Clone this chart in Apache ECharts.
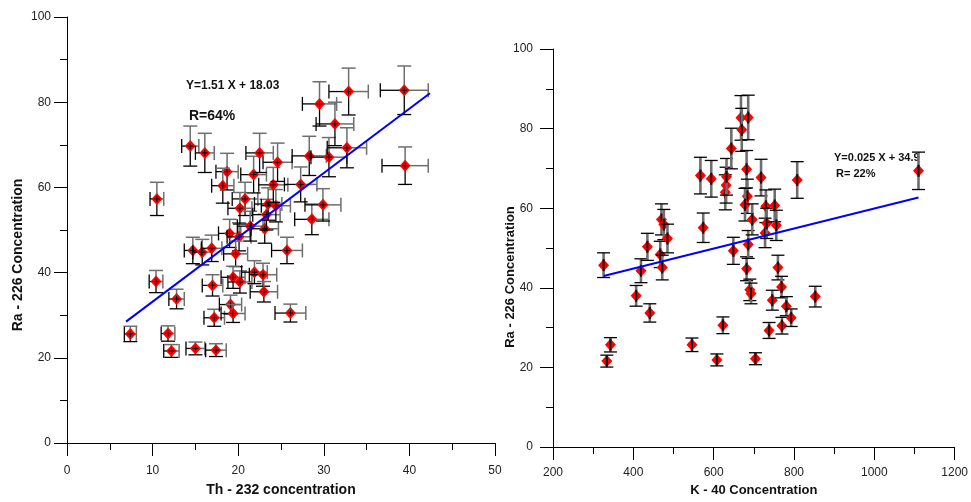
<!DOCTYPE html>
<html>
<head>
<meta charset="utf-8">
<script src="https://cdn.jsdelivr.net/npm/echarts@6/dist/echarts.min.js"></script>
<style>
  html, body { margin: 0; padding: 0; background: #ffffff; }
  #chart { width: 971px; height: 502px; }
</style>
</head>
<body>
<div id="chart"></div>
<script>
// ---------- Left chart: Th-232 vs Ra-226 ----------
const thX = [7.4, 10.5, 10.4, 11.8, 12.2, 12.8, 14.4, 16.1, 15.0, 17.4,
  14.7, 15.8, 16.9, 17.0, 17.2, 18.7, 18.2, 19.0, 20.1, 19.7,
  19.4, 20.2, 19.1, 19.4, 20.8, 20.2, 21.4, 21.8, 22.5, 21.9,
  22.9, 23.0, 23.1, 23.3, 23.5, 24.4, 24.1, 24.6, 25.7, 26.1,
  27.3, 28.3, 28.6, 29.9, 29.5, 30.6, 31.3, 32.7, 32.9, 39.4, 39.5];
const thRa = [25.6, 57.3, 37.9, 25.7, 21.6, 33.8, 69.7, 68.1, 22.2, 21.8,
  45.2, 44.8, 45.7, 37.0, 29.4, 63.7, 60.4, 49.2, 48.4, 44.4,
  38.9, 37.8, 32.5, 30.4, 57.3, 55.1, 50.9, 63.0, 68.1, 40.1,
  39.5, 35.5, 50.3, 53.6, 56.1, 55.7, 60.6, 65.9, 45.2, 30.5,
  60.7, 67.4, 52.5, 55.9, 79.6, 67.1, 74.9, 69.3, 82.5, 82.8, 65.1];
const thXErr = [0.7, 0.8, 0.8, 0.8, 0.9, 0.9, 1.0, 1.1, 1.1, 1.2,
  1.0, 1.1, 1.2, 1.2, 1.2, 1.3, 1.3, 1.3, 1.4, 1.4,
  1.4, 1.4, 1.3, 1.4, 1.5, 1.4, 1.5, 1.5, 1.6, 1.5,
  1.6, 1.6, 1.6, 1.6, 1.6, 1.7, 1.7, 1.7, 1.8, 1.8,
  1.9, 2.0, 2.0, 2.1, 2.0, 2.1, 2.2, 2.3, 2.3, 2.8, 2.7];
const thRaErr = [1.8, 3.9, 2.6, 1.8, 1.5, 2.3, 4.7, 4.6, 1.5, 1.5,
  3.1, 3.0, 3.1, 2.5, 2.0, 4.3, 4.1, 3.3, 3.3, 3.0,
  2.6, 2.6, 2.2, 2.1, 3.9, 3.7, 3.5, 4.3, 4.6, 2.7,
  2.7, 2.4, 3.4, 3.6, 3.8, 3.8, 4.1, 4.5, 3.1, 2.1,
  4.1, 4.6, 3.6, 3.8, 5.2, 4.6, 5.1, 4.7, 5.5, 5.7, 4.4];
const thFitX = [6.9, 42.4];
const thFitY = [28.5, 82.1];

// ---------- Right chart: K-40 vs Ra-226 ----------
const kX = [326, 334, 343, 407, 419, 435, 441, 467, 470, 472,
  476, 485, 546, 567, 574, 594, 608, 623, 629, 631,
  632, 644, 649, 668, 670, 682, 686, 684, 678, 682,
  686, 690, 693, 696, 704, 718, 728, 730, 732, 738,
  746, 752, 756, 760, 769, 770, 781, 793, 808, 853, 1110];
const kRa = [45.7, 21.6, 25.7, 38.0, 44.3, 50.3, 33.7, 48.4, 57.2, 45.1,
  55.9, 52.4, 25.7, 68.2, 55.1, 67.4, 21.9, 30.6, 64.0, 65.8,
  67.9, 75.0, 49.3, 82.7, 79.7, 69.8, 82.8, 63.0, 60.9, 44.8,
  50.9, 39.5, 38.6, 57.2, 22.2, 67.7, 53.8, 60.5, 56.2, 29.3,
  36.9, 60.7, 55.7, 45.1, 40.2, 30.5, 35.4, 32.5, 67.1, 37.8, 69.4];
const kRaErr = [3.1, 1.5, 1.8, 2.6, 3.0, 3.4, 2.3, 3.3, 3.9, 3.1,
  3.8, 3.6, 1.7, 4.6, 3.7, 4.6, 1.5, 2.1, 4.4, 4.5,
  4.6, 5.1, 3.4, 5.6, 5.4, 4.7, 5.6, 4.3, 4.1, 3.0,
  3.5, 2.7, 2.6, 3.9, 1.5, 4.6, 3.7, 4.1, 3.8, 2.0,
  2.5, 4.1, 3.8, 3.1, 2.7, 2.1, 2.4, 2.2, 4.6, 2.6, 4.7];
const kFitX = [326, 1110];
const kFitY = [43.0, 62.7];

const FONT = '"Liberation Sans", Arial, sans-serif';
const GRAY = '#6e6e6e';
const BLACK = '#000000';

function seg(x1, y1, x2, y2, color, w) {
  return { type: 'line', shape: { x1, y1, x2, y2 }, style: { stroke: color, lineWidth: w } };
}
function diamond(cx, cy, hw, hh) {
  return { type: 'polygon', shape: { points: [[cx, cy - hh], [cx + hw, cy], [cx, cy + hh], [cx - hw, cy]] },
    style: { fill: '#ff0000', stroke: null } };
}

function renderTh(params, api) {
  const x = api.value(0), y = api.value(1), ex = api.value(2), ey = api.value(3);
  const c = api.coord([x, y]);
  const t = api.coord([x, y + ey]), b = api.coord([x, y - ey]);
  const l = api.coord([x - ex, y]), r = api.coord([x + ex, y]);
  const cap = 7;
  return { type: 'group', children: [
    seg(c[0], c[1], c[0], t[1], GRAY, 1.5),
    seg(c[0] - cap, t[1], c[0] + cap, t[1], GRAY, 1.5),
    seg(c[0], c[1], c[0], b[1], BLACK, 1.3),
    seg(c[0] - cap, b[1], c[0] + cap, b[1], BLACK, 1.3),
    seg(l[0], c[1], c[0], c[1], BLACK, 1.3),
    seg(l[0], c[1] - cap, l[0], c[1] + cap, BLACK, 1.3),
    seg(c[0], c[1], r[0], c[1], GRAY, 1.5),
    seg(r[0], c[1] - cap, r[0], c[1] + cap, GRAY, 1.5),
    diamond(c[0], c[1], 5.5, 6),
    seg(c[0] - 3, c[1], c[0] + 3, c[1], BLACK, 1),
    seg(c[0], c[1] - 3, c[0], c[1] + 3, BLACK, 1)
  ]};
}

function renderK(params, api) {
  const x = api.value(0), y = api.value(1), ey = api.value(2);
  const c = api.coord([x, y]);
  const t = api.coord([x, y + ey]), b = api.coord([x, y - ey]);
  const cap = 6.5;
  return { type: 'group', children: [
    seg(c[0], t[1], c[0], b[1], GRAY, 2.6),
    seg(c[0] - cap, t[1], c[0] + cap, t[1], BLACK, 1.3),
    seg(c[0] - cap, b[1], c[0] + cap, b[1], BLACK, 1.3),
    diamond(c[0], c[1], 5.5, 6),
    seg(c[0], c[1] - 6, c[0], c[1] + 6, '#111', 2)
  ]};
}

function valueAxis(gridIndex, min, max, interval, margin, name, nameGap, nameSize, showName) {
  return {
    type: 'value', gridIndex, min, max, interval,
    axisLine: { show: true, lineStyle: { color: '#000', width: 1 } },
    axisTick: { show: true, length: 13, lineStyle: { color: '#000', width: 1 } },
    minorTick: { show: true, splitNumber: 2, length: 7, lineStyle: { color: '#000', width: 1 } },
    splitLine: { show: false },
    minorSplitLine: { show: false },
    axisLabel: { margin, fontSize: 12, color: '#222', fontFamily: FONT,
      formatter: function (v) { return String(v); } },
    name: showName ? name : '',
    nameLocation: 'middle',
    nameGap,
    nameTextStyle: { fontSize: nameSize, fontWeight: 'bold', color: '#111', fontFamily: FONT }
  };
}

const chart = echarts.init(document.getElementById('chart'), null, { renderer: 'canvas' });
chart.setOption({
  animation: false,
  backgroundColor: '#ffffff',
  grid: [
    { left: 67, top: 17, width: 428, height: 429 },
    { left: 553, top: 49, width: 405, height: 406 }
  ],
  xAxis: [
    valueAxis(0, 0, 50, 10, 22, 'Th - 232 concentration', 40, 14, true),
    valueAxis(1, 200, 1200, 200, 20, 'K - 40 Concentration', 31, 13, true)
  ],
  yAxis: [
    valueAxis(0, 0, 100, 20, 16, '', 0, 14, false),
    valueAxis(1, 0, 100, 20, 20, '', 0, 13, false)
  ],
  graphic: [
    { type: 'text', x: 18, y: 255, rotation: Math.PI / 2,
      style: { text: 'Ra - 226 Concentration', align: 'center', verticalAlign: 'middle',
        font: 'bold 14px ' + FONT, fill: '#111' } },
    { type: 'text', x: 510, y: 277, rotation: Math.PI / 2,
      style: { text: 'Ra - 226 Concentration', align: 'center', verticalAlign: 'middle',
        font: 'bold 13px ' + FONT, fill: '#111' } },
    { type: 'text', x: 186, y: 86,
      style: { text: 'Y=1.51 X + 18.03', align: 'left', verticalAlign: 'middle',
        font: 'bold 12px ' + FONT, fill: '#111' } },
    { type: 'text', x: 189, y: 116,
      style: { text: 'R=64%', align: 'left', verticalAlign: 'middle',
        font: 'bold 14px ' + FONT, fill: '#111' } },
    { type: 'text', x: 834, y: 158,
      style: { text: 'Y=0.025 X + 34.9', align: 'left', verticalAlign: 'middle',
        font: 'bold 11px ' + FONT, fill: '#111' } },
    { type: 'text', x: 836, y: 174,
      style: { text: 'R= 22%', align: 'left', verticalAlign: 'middle',
        font: 'bold 11px ' + FONT, fill: '#111' } }
  ],
  series: [
    {
      type: 'custom', xAxisIndex: 0, yAxisIndex: 0, renderItem: renderTh,
      encode: { x: 0, y: 1 },
      data: thX.map((x, i) => [x, thRa[i], thXErr[i], thRaErr[i]]),
      z: 2
    },
    {
      type: 'line', xAxisIndex: 0, yAxisIndex: 0, showSymbol: false, symbol: 'none',
      lineStyle: { color: '#0000ff', width: 2 },
      data: thFitX.map((x, i) => [x, thFitY[i]]),
      z: 3
    },
    {
      type: 'custom', xAxisIndex: 1, yAxisIndex: 1, renderItem: renderK,
      encode: { x: 0, y: 1 },
      data: kX.map((x, i) => [x, kRa[i], kRaErr[i]]),
      z: 2
    },
    {
      type: 'line', xAxisIndex: 1, yAxisIndex: 1, showSymbol: false, symbol: 'none',
      lineStyle: { color: '#0000ff', width: 2 },
      data: kFitX.map((x, i) => [x, kFitY[i]]),
      z: 3
    }
  ]
});
</script>
</body>
</html>
